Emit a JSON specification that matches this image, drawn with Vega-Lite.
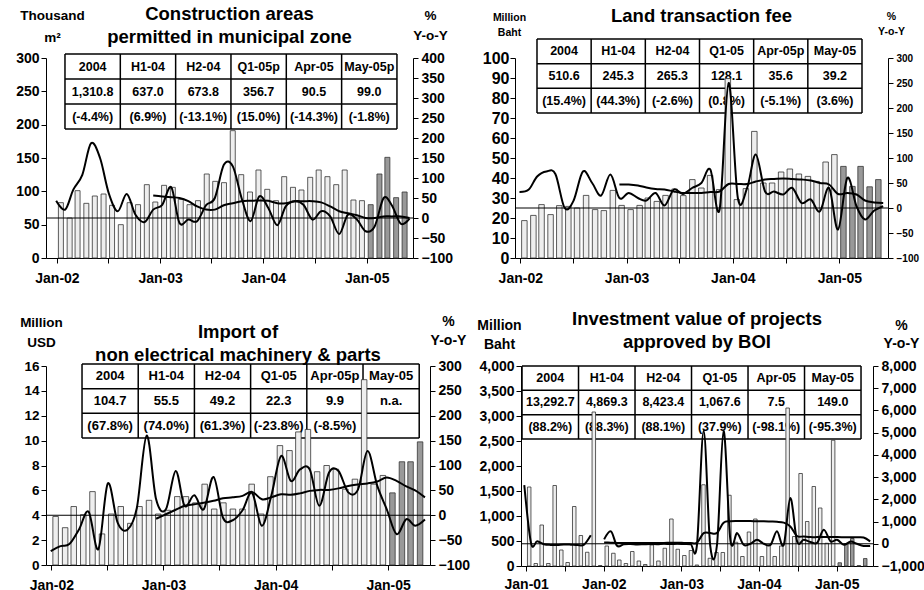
{
"$schema": "https://vega.github.io/schema/vega-lite/v6.json",
"background": "white",
"padding": {"left": 15, "top": 4, "right": 0, "bottom": 0},
"columns": 1,
"align": "none",
"spacing": 24,
"config": {
  "view": {"stroke": null},
  "axis": {"grid": false, "domainColor": "#000", "tickColor": "#000", "labelColor": "#000", "titleColor": "#000", "labelFont": "Liberation Sans", "titleFont": "Liberation Sans", "labelFontWeight": "bold", "titleFontWeight": "bold", "tickSize": 5, "domainWidth": 1, "tickWidth": 1, "labelOverlap": false, "labelFlush": false},
  "title": {"font": "Liberation Sans", "fontWeight": "bold", "fontSize": 18.5, "color": "#000", "lineHeight": 23},
  "text": {"font": "Liberation Sans", "fontWeight": "bold", "color": "#000"}
},
"datasets": {
  "bh": [{"k": -0.5}, {"k": 0.5}, {"k": 1.5}, {"k": 2.5}],
  "bv": [{"k": -0.5}, {"k": 0.5}, {"k": 1.5}, {"k": 2.5}, {"k": 3.5}, {"k": 4.5}, {"k": 5.5}],
  "t1": [
    {"c":0,"r":0,"s":"2004"},{"c":1,"r":0,"s":"H1-04"},{"c":2,"r":0,"s":"H2-04"},{"c":3,"r":0,"s":"Q1-05p"},{"c":4,"r":0,"s":"Apr-05"},{"c":5,"r":0,"s":"May-05p"},
    {"c":0,"r":1,"s":"1,310.8"},{"c":1,"r":1,"s":"637.0"},{"c":2,"r":1,"s":"673.8"},{"c":3,"r":1,"s":"356.7"},{"c":4,"r":1,"s":"90.5"},{"c":5,"r":1,"s":"99.0"},
    {"c":0,"r":2,"s":"(-4.4%)"},{"c":1,"r":2,"s":"(6.9%)"},{"c":2,"r":2,"s":"(-13.1%)"},{"c":3,"r":2,"s":"(15.0%)"},{"c":4,"r":2,"s":"(-14.3%)"},{"c":5,"r":2,"s":"(-1.8%)"}],
  "t2": [
    {"c":0,"r":0,"s":"2004"},{"c":1,"r":0,"s":"H1-04"},{"c":2,"r":0,"s":"H2-04"},{"c":3,"r":0,"s":"Q1-05"},{"c":4,"r":0,"s":"Apr-05p"},{"c":5,"r":0,"s":"May-05"},
    {"c":0,"r":1,"s":"510.6"},{"c":1,"r":1,"s":"245.3"},{"c":2,"r":1,"s":"265.3"},{"c":3,"r":1,"s":"128.1"},{"c":4,"r":1,"s":"35.6"},{"c":5,"r":1,"s":"39.2"},
    {"c":0,"r":2,"s":"(15.4%)"},{"c":1,"r":2,"s":"(44.3%)"},{"c":2,"r":2,"s":"(-2.6%)"},{"c":3,"r":2,"s":"(0.8%)"},{"c":4,"r":2,"s":"(-5.1%)"},{"c":5,"r":2,"s":"(3.6%)"}],
  "t3": [
    {"c":0,"r":0,"s":"2004"},{"c":1,"r":0,"s":"H1-04"},{"c":2,"r":0,"s":"H2-04"},{"c":3,"r":0,"s":"Q1-05"},{"c":4,"r":0,"s":"Apr-05p"},{"c":5,"r":0,"s":"May-05"},
    {"c":0,"r":1,"s":"104.7"},{"c":1,"r":1,"s":"55.5"},{"c":2,"r":1,"s":"49.2"},{"c":3,"r":1,"s":"22.3"},{"c":4,"r":1,"s":"9.9"},{"c":5,"r":1,"s":"n.a."},
    {"c":0,"r":2,"s":"(67.8%)"},{"c":1,"r":2,"s":"(74.0%)"},{"c":2,"r":2,"s":"(61.3%)"},{"c":3,"r":2,"s":"(-23.8%)"},{"c":4,"r":2,"s":"(-8.5%)"}],
  "t4": [
    {"c":0,"r":0,"s":"2004"},{"c":1,"r":0,"s":"H1-04"},{"c":2,"r":0,"s":"H2-04"},{"c":3,"r":0,"s":"Q1-05"},{"c":4,"r":0,"s":"Apr-05"},{"c":5,"r":0,"s":"May-05"},
    {"c":0,"r":1,"s":"13,292.7"},{"c":1,"r":1,"s":"4,869.3"},{"c":2,"r":1,"s":"8,423.4"},{"c":3,"r":1,"s":"1,067.6"},{"c":4,"r":1,"s":"7.5"},{"c":5,"r":1,"s":"149.0"},
    {"c":0,"r":2,"s":"(88.2%)"},{"c":1,"r":2,"s":"(88.3%)"},{"c":2,"r":2,"s":"(88.1%)"},{"c":3,"r":2,"s":"(37.9%)"},{"c":4,"r":2,"s":"(-98.1%)"},{"c":5,"r":2,"s":"(-95.3%)"}],
  "p1": [
    {"m":"2002-01-15","v":83,"y":43,"a":null},{"m":"2002-02-15","v":60,"y":21,"a":null},{"m":"2002-03-15","v":101,"y":71,"a":null},{"m":"2002-04-15","v":82,"y":108,"a":null},
    {"m":"2002-05-15","v":93,"y":187,"a":null},{"m":"2002-06-15","v":96,"y":150,"a":null},{"m":"2002-07-15","v":79,"y":62,"a":null},{"m":"2002-08-15","v":50,"y":17,"a":null},
    {"m":"2002-09-15","v":83,"y":60,"a":null},{"m":"2002-10-15","v":80,"y":8,"a":null},{"m":"2002-11-15","v":110,"y":-10,"a":null},{"m":"2002-12-15","v":84,"y":21,"a":56},
    {"m":"2003-01-15","v":109,"y":33,"a":54},{"m":"2003-02-15","v":106,"y":77,"a":52},{"m":"2003-03-15","v":88,"y":-12,"a":50},{"m":"2003-04-15","v":80,"y":-4,"a":42},
    {"m":"2003-05-15","v":86,"y":-8,"a":29},{"m":"2003-06-15","v":126,"y":32,"a":21},{"m":"2003-07-15","v":115,"y":50,"a":21},{"m":"2003-08-15","v":113,"y":133,"a":32},
    {"m":"2003-09-15","v":191,"y":129,"a":37},{"m":"2003-10-15","v":125,"y":50,"a":42},{"m":"2003-11-15","v":99,"y":-8,"a":43},{"m":"2003-12-15","v":132,"y":54,"a":44},
    {"m":"2004-01-15","v":103,"y":25,"a":43},{"m":"2004-02-15","v":86,"y":-18,"a":37},{"m":"2004-03-15","v":122,"y":29,"a":37},{"m":"2004-04-15","v":106,"y":42,"a":42},
    {"m":"2004-05-15","v":102,"y":33,"a":42},{"m":"2004-06-15","v":121,"y":-4,"a":42},{"m":"2004-07-15","v":132,"y":17,"a":39},{"m":"2004-08-15","v":122,"y":4,"a":29},
    {"m":"2004-09-15","v":110,"y":-40,"a":17},{"m":"2004-10-15","v":132,"y":8,"a":12},{"m":"2004-11-15","v":87,"y":-4,"a":7},{"m":"2004-12-15","v":86,"y":-33,"a":0},
    {"m":"2005-01-15","v":80,"y":-21,"a":0},{"m":"2005-02-15","v":126,"y":50,"a":4},{"m":"2005-03-15","v":151,"y":32,"a":4},{"m":"2005-04-15","v":90.5,"y":-14.3,"a":4},
    {"m":"2005-05-15","v":99,"y":-1.8,"a":0}],
  "p2": [
    {"m":"2002-01-15","v":18.7,"y":32,"a":null},{"m":"2002-02-15","v":21.3,"y":37,"a":null},{"m":"2002-03-15","v":26.7,"y":63,"a":null},{"m":"2002-04-15","v":21.7,"y":73,"a":null},
    {"m":"2002-05-15","v":26.2,"y":68,"a":null},{"m":"2002-06-15","v":25.8,"y":0,"a":null},{"m":"2002-07-15","v":25,"y":15,"a":null},{"m":"2002-08-15","v":31.3,"y":73,"a":null},
    {"m":"2002-09-15","v":24.2,"y":50,"a":null},{"m":"2002-10-15","v":23.7,"y":25,"a":null},{"m":"2002-11-15","v":33.8,"y":67,"a":null},{"m":"2002-12-15","v":26.3,"y":20,"a":47},
    {"m":"2003-01-15","v":24.2,"y":30,"a":47},{"m":"2003-02-15","v":26.3,"y":20,"a":45},{"m":"2003-03-15","v":30,"y":15,"a":41},{"m":"2003-04-15","v":28.3,"y":30,"a":38},
    {"m":"2003-05-15","v":31.3,"y":5,"a":37},{"m":"2003-06-15","v":34.5,"y":37,"a":33},{"m":"2003-07-15","v":31.2,"y":28,"a":30},{"m":"2003-08-15","v":39.2,"y":40,"a":30},
    {"m":"2003-09-15","v":35,"y":50,"a":30},{"m":"2003-10-15","v":41.3,"y":77,"a":32},{"m":"2003-11-15","v":34.2,"y":-3,"a":33},{"m":"2003-12-15","v":89.7,"y":250,"a":48},
    {"m":"2004-01-15","v":29.2,"y":20,"a":48},{"m":"2004-02-15","v":34.7,"y":40,"a":48},{"m":"2004-03-15","v":63.3,"y":107,"a":53},{"m":"2004-04-15","v":37.5,"y":33,"a":57},
    {"m":"2004-05-15","v":37.5,"y":33,"a":58},{"m":"2004-06-15","v":43,"y":27,"a":59},{"m":"2004-07-15","v":44.5,"y":40,"a":58},{"m":"2004-08-15","v":42,"y":10,"a":57},
    {"m":"2004-09-15","v":40.8,"y":17,"a":55},{"m":"2004-10-15","v":38.3,"y":-7,"a":50},{"m":"2004-11-15","v":48,"y":40,"a":47},{"m":"2004-12-15","v":51.7,"y":-43,"a":28},
    {"m":"2005-01-15","v":45.8,"y":60,"a":30},{"m":"2005-02-15","v":35.8,"y":3,"a":27},{"m":"2005-03-15","v":45.8,"y":-23,"a":15},{"m":"2005-04-15","v":35.6,"y":-5.1,"a":11},
    {"m":"2005-05-15","v":39.2,"y":3.6,"a":10}],
  "p3": [
    {"m":"2002-01-15","v":3.9,"y":-72,"a":null},{"m":"2002-02-15","v":3.0,"y":-62,"a":null},{"m":"2002-03-15","v":4.7,"y":-58,"a":null},{"m":"2002-04-15","v":4.05,"y":-28,"a":null},
    {"m":"2002-05-15","v":5.9,"y":7,"a":null},{"m":"2002-06-15","v":2.5,"y":-68,"a":null},{"m":"2002-07-15","v":4.1,"y":64,"a":null},{"m":"2002-08-15","v":4.7,"y":-15,"a":null},
    {"m":"2002-09-15","v":3.35,"y":-29,"a":null},{"m":"2002-10-15","v":4.7,"y":15,"a":null},{"m":"2002-11-15","v":5.2,"y":160,"a":null},{"m":"2002-12-15","v":4.1,"y":32,"a":-7},
    {"m":"2003-01-15","v":4.4,"y":12,"a":2},{"m":"2003-02-15","v":5.5,"y":89,"a":11},{"m":"2003-03-15","v":5.5,"y":19,"a":19},{"m":"2003-04-15","v":5.0,"y":40,"a":22},
    {"m":"2003-05-15","v":6.5,"y":12,"a":25},{"m":"2003-06-15","v":4.5,"y":77,"a":29},{"m":"2003-07-15","v":5.0,"y":-5,"a":34},{"m":"2003-08-15","v":4.5,"y":-10,"a":36},
    {"m":"2003-09-15","v":4.5,"y":10,"a":39},{"m":"2003-10-15","v":6.5,"y":45,"a":47},{"m":"2003-11-15","v":4.1,"y":-21,"a":32},{"m":"2003-12-15","v":7.1,"y":39,"a":36},
    {"m":"2004-01-15","v":9.6,"y":119,"a":42},{"m":"2004-02-15","v":9.2,"y":69,"a":41},{"m":"2004-03-15","v":10.7,"y":92,"a":44},{"m":"2004-04-15","v":10.9,"y":92,"a":49},
    {"m":"2004-05-15","v":7.5,"y":19,"a":51},{"m":"2004-06-15","v":8.0,"y":86,"a":51},{"m":"2004-07-15","v":7.7,"y":89,"a":54},{"m":"2004-08-15","v":6.1,"y":46,"a":59},
    {"m":"2004-09-15","v":6.9,"y":52,"a":62},{"m":"2004-10-15","v":14.9,"y":129,"a":64},{"m":"2004-11-15","v":6.5,"y":59,"a":68},{"m":"2004-12-15","v":7.2,"y":12,"a":76},
    {"m":"2005-01-15","v":5.8,"y":-38,"a":69},{"m":"2005-02-15","v":8.3,"y":-8,"a":58},{"m":"2005-03-15","v":8.3,"y":-21,"a":50},{"m":"2005-04-15","v":9.9,"y":-8.5,"a":36}],
  "p4": [
    {"m":"2001-01-15","v":1580,"y":2640,"a":null},{"m":"2001-02-15","v":50,"y":30,"a":null},{"m":"2001-03-15","v":820,"y":110,"a":null},{"m":"2001-04-15","v":50,"y":-20,"a":null},
    {"m":"2001-05-15","v":1610,"y":-50,"a":null},{"m":"2001-06-15","v":320,"y":-50,"a":null},{"m":"2001-07-15","v":70,"y":-30,"a":null},{"m":"2001-08-15","v":1190,"y":-40,"a":null},
    {"m":"2001-09-15","v":610,"y":-60,"a":null},{"m":"2001-10-15","v":275,"y":-40,"a":null},{"m":"2001-11-15","v":3080,"y":380,"a":null},{"m":"2001-12-15","v":10,"y":null,"a":null},
    {"m":"2002-01-15","v":400,"y":200,"a":60},{"m":"2002-02-15","v":255,"y":560,"a":50},{"m":"2002-03-15","v":120,"y":-90,"a":40},{"m":"2002-04-15","v":50,"y":-20,"a":40},
    {"m":"2002-05-15","v":290,"y":-10,"a":40},{"m":"2002-06-15","v":100,"y":-30,"a":40},{"m":"2002-07-15","v":30,"y":-20,"a":40},{"m":"2002-08-15","v":420,"y":-10,"a":40},
    {"m":"2002-09-15","v":100,"y":-20,"a":40},{"m":"2002-10-15","v":355,"y":0,"a":40},{"m":"2002-11-15","v":940,"y":-10,"a":45},{"m":"2002-12-15","v":335,"y":0,"a":45},
    {"m":"2003-01-15","v":210,"y":-10,"a":40},{"m":"2003-02-15","v":310,"y":-20,"a":40},{"m":"2003-03-15","v":20,"y":-80,"a":40},{"m":"2003-04-15","v":1625,"y":5070,"a":480},
    {"m":"2003-05-15","v":155,"y":-90,"a":480},{"m":"2003-06-15","v":270,"y":-40,"a":490},{"m":"2003-07-15","v":270,"y":5070,"a":950},{"m":"2003-08-15","v":1415,"y":180,"a":1010},
    {"m":"2003-09-15","v":475,"y":480,"a":1020},{"m":"2003-10-15","v":190,"y":-45,"a":1020},{"m":"2003-11-15","v":680,"y":0,"a":1020},{"m":"2003-12-15","v":940,"y":180,"a":1010},
    {"m":"2004-01-15","v":190,"y":0,"a":1010},{"m":"2004-02-15","v":420,"y":-45,"a":1000},{"m":"2004-03-15","v":190,"y":560,"a":990},{"m":"2004-04-15","v":400,"y":-45,"a":950},
    {"m":"2004-05-15","v":3160,"y":2060,"a":780},{"m":"2004-06-15","v":590,"y":110,"a":350},{"m":"2004-07-15","v":1850,"y":180,"a":330},{"m":"2004-08-15","v":890,"y":80,"a":300},
    {"m":"2004-09-15","v":1590,"y":50,"a":300},{"m":"2004-10-15","v":1160,"y":630,"a":300},{"m":"2004-11-15","v":455,"y":110,"a":300},{"m":"2004-12-15","v":2515,"y":180,"a":300},
    {"m":"2005-01-15","v":65,"y":-45,"a":295},{"m":"2005-02-15","v":450,"y":100,"a":290},{"m":"2005-03-15","v":550,"y":0,"a":290},{"m":"2005-04-15","v":7.5,"y":-98.1,"a":280},
    {"m":"2005-05-15","v":149,"y":-95.3,"a":110}]
},
"concat": [
 {"hconcat": [
  {"width": 367, "height": 200,
   "title": {"text": ["Construction areas", "permitted in municipal zone"], "offset": -38},
   "resolve": {"scale": {"x": "independent", "y": "independent"}},
   "layer": [
    {"data": {"name": "bh"}, "mark": {"type": "rule", "color": "#000", "strokeWidth": 1.5},
     "encoding": {"y": {"field": "k", "type": "quantitative", "scale": {"domain": [-0.34, 7.66], "reverse": true, "nice": false, "zero": false}, "axis": null},
                  "x": {"datum": -0.5, "type": "quantitative", "scale": {"domain": [-0.843, 5.79], "nice": false, "zero": false}, "axis": null}, "x2": {"datum": 5.5}}},
    {"data": {"name": "bv"}, "mark": {"type": "rule", "color": "#000", "strokeWidth": 1.5},
     "encoding": {"x": {"field": "k", "type": "quantitative", "scale": {"domain": [-0.843, 5.79], "nice": false, "zero": false}, "axis": null},
                  "y": {"datum": -0.5, "type": "quantitative", "scale": {"domain": [-0.34, 7.66], "reverse": true, "nice": false, "zero": false}, "axis": null}, "y2": {"datum": 2.5}}},
    {"data": {"name": "t1"}, "mark": {"type": "text", "fontSize": 12.5},
     "encoding": {"x": {"field": "c", "type": "quantitative", "scale": {"domain": [-0.843, 5.79], "nice": false, "zero": false}, "axis": null},
                  "y": {"field": "r", "type": "quantitative", "scale": {"domain": [-0.34, 7.66], "reverse": true, "nice": false, "zero": false}, "axis": null},
                  "text": {"field": "s"}}},
    {"data": {"name": "p1"}, "mark": {"type": "bar", "size": 5, "stroke": "#333", "strokeWidth": 0.8},
     "encoding": {"x": {"field": "m", "type": "temporal", "scale": {"type": "utc", "domain": [{"year": 2001, "month": 12, "date": 11, "utc": true}, {"year": 2005, "month": 5, "date": 27, "utc": true}]},
                        "axis": {"title": null, "labelFontSize": 14, "labelPadding": 8, "values": [{"year":2002,"month":1,"date":1,"utc":true},{"year":2002,"month":7,"date":1,"utc":true},{"year":2003,"month":1,"date":1,"utc":true},{"year":2003,"month":7,"date":1,"utc":true},{"year":2004,"month":1,"date":1,"utc":true},{"year":2004,"month":7,"date":1,"utc":true},{"year":2005,"month":1,"date":1,"utc":true}],
                                 "labelExpr": "utcmonth(datum.value) == 0 ? utcFormat(datum.value, '%b-%y') : ''"}},
                  "y": {"field": "v", "type": "quantitative", "scale": {"domain": [0, 300], "nice": false, "zero": false},
                        "axis": {"orient": "left", "values": [0, 50, 100, 150, 200, 250, 300], "labelFontSize": 14, "labelPadding": 2,
                                 "title": ["Thousand", "m²"], "titleAngle": 0, "titleAlign": "center", "titleBaseline": "alphabetic", "titleX": 6, "titleY": -39, "titleFontSize": 13.5, "titleLineHeight": 22}},
                  "fill": {"condition": {"test": "utcyear(datum.m) >= 2005", "value": "#999999"}, "value": "#eeeeee"}}},
    {"data": {"values": [{}]}, "mark": {"type": "rule", "color": "#000", "strokeWidth": 1},
     "encoding": {"y": {"datum": 0, "type": "quantitative", "scale": {"domain": [-100, 400], "nice": false, "zero": false}, "axis": null}}},
    {"data": {"name": "p1"}, "mark": {"type": "line", "color": "#000", "strokeWidth": 2, "interpolate": "cardinal", "invalid": "break-paths-show-domains"},
     "encoding": {"x": {"field": "m", "type": "temporal", "scale": {"type": "utc", "domain": [{"year": 2001, "month": 12, "date": 11, "utc": true}, {"year": 2005, "month": 5, "date": 27, "utc": true}]}, "axis": null},
                  "y": {"field": "y", "type": "quantitative", "scale": {"domain": [-100, 400], "nice": false, "zero": false},
                        "axis": {"orient": "right", "values": [-100, -50, 0, 50, 100, 150, 200, 250, 300, 350, 400], "labelFontSize": 14, "labelPadding": 3,
                                 "title": ["%", "Y-o-Y"], "titleAngle": 0, "titleAlign": "center", "titleBaseline": "alphabetic", "titleX": 17, "titleY": -39, "titleFontSize": 13.5, "titleLineHeight": 20}}}},
    {"data": {"name": "p1"}, "mark": {"type": "line", "color": "#000", "strokeWidth": 2, "interpolate": "cardinal", "invalid": "break-paths-show-domains"},
     "encoding": {"x": {"field": "m", "type": "temporal", "scale": {"type": "utc", "domain": [{"year": 2001, "month": 12, "date": 11, "utc": true}, {"year": 2005, "month": 5, "date": 27, "utc": true}]}, "axis": null},
                  "y": {"field": "a", "type": "quantitative", "scale": {"domain": [-100, 400], "nice": false, "zero": false}, "axis": null}}}
   ]},
  {"width": 373, "height": 200,
   "title": {"text": "Land transaction fee", "offset": -14},
   "resolve": {"scale": {"x": "independent", "y": "independent"}},
   "layer": [
    {"data": {"name": "bh"}, "mark": {"type": "rule", "color": "#000", "strokeWidth": 1.5},
     "encoding": {"y": {"field": "k", "type": "quantitative", "scale": {"domain": [0.27, 8.377], "reverse": true, "nice": false, "zero": false}, "axis": null},
                  "x": {"datum": -0.5, "type": "quantitative", "scale": {"domain": [-0.906, 5.98], "nice": false, "zero": false}, "axis": null}, "x2": {"datum": 5.5}}},
    {"data": {"name": "bv"}, "mark": {"type": "rule", "color": "#000", "strokeWidth": 1.5},
     "encoding": {"x": {"field": "k", "type": "quantitative", "scale": {"domain": [-0.906, 5.98], "nice": false, "zero": false}, "axis": null},
                  "y": {"datum": -0.5, "type": "quantitative", "scale": {"domain": [0.27, 8.377], "reverse": true, "nice": false, "zero": false}, "axis": null}, "y2": {"datum": 2.5}}},
    {"data": {"name": "t2"}, "mark": {"type": "text", "fontSize": 12.5},
     "encoding": {"x": {"field": "c", "type": "quantitative", "scale": {"domain": [-0.906, 5.98], "nice": false, "zero": false}, "axis": null},
                  "y": {"field": "r", "type": "quantitative", "scale": {"domain": [0.27, 8.377], "reverse": true, "nice": false, "zero": false}, "axis": null},
                  "text": {"field": "s"}}},
    {"data": {"name": "p2"}, "mark": {"type": "bar", "size": 5.5, "stroke": "#333", "strokeWidth": 0.8},
     "encoding": {"x": {"field": "m", "type": "temporal", "scale": {"type": "utc", "domain": [{"year": 2001, "month": 12, "date": 31, "utc": true}, {"year": 2005, "month": 5, "date": 31, "utc": true}]},
                        "axis": {"title": null, "labelFontSize": 14, "labelPadding": 8, "values": [{"year":2002,"month":1,"date":1,"utc":true},{"year":2002,"month":7,"date":1,"utc":true},{"year":2003,"month":1,"date":1,"utc":true},{"year":2003,"month":7,"date":1,"utc":true},{"year":2004,"month":1,"date":1,"utc":true},{"year":2004,"month":7,"date":1,"utc":true},{"year":2005,"month":1,"date":1,"utc":true}],
                                 "labelExpr": "utcmonth(datum.value) == 0 ? utcFormat(datum.value, '%b-%y') : ''"}},
                  "y": {"field": "v", "type": "quantitative", "scale": {"domain": [0, 100], "nice": false, "zero": false},
                        "axis": {"orient": "left", "values": [0, 10, 20, 30, 40, 50, 60, 70, 80, 90, 100], "labelFontSize": 16, "labelPadding": 1,
                                 "title": ["Million", "Baht"], "titleAngle": 0, "titleAlign": "center", "titleBaseline": "alphabetic", "titleX": -6, "titleY": -38, "titleFontSize": 10.5, "titleLineHeight": 15}},
                  "fill": {"condition": {"test": "utcyear(datum.m) >= 2005", "value": "#999999"}, "value": "#eeeeee"}}},
    {"data": {"values": [{}]}, "mark": {"type": "rule", "color": "#000", "strokeWidth": 1},
     "encoding": {"y": {"datum": 0, "type": "quantitative", "scale": {"domain": [-100, 300], "nice": false, "zero": false}, "axis": null}}},
    {"data": {"name": "p2"}, "mark": {"type": "line", "color": "#000", "strokeWidth": 2, "interpolate": "cardinal", "invalid": "break-paths-show-domains"},
     "encoding": {"x": {"field": "m", "type": "temporal", "scale": {"type": "utc", "domain": [{"year": 2001, "month": 12, "date": 31, "utc": true}, {"year": 2005, "month": 5, "date": 31, "utc": true}]}, "axis": null},
                  "y": {"field": "y", "type": "quantitative", "scale": {"domain": [-100, 300], "nice": false, "zero": false},
                        "axis": {"orient": "right", "values": [-100, -50, 0, 50, 100, 150, 200, 250, 300], "labelFontSize": 10, "labelPadding": 3,
                                 "title": ["%", "Y-o-Y"], "titleAngle": 0, "titleAlign": "center", "titleBaseline": "alphabetic", "titleX": 3, "titleY": -39, "titleFontSize": 10.5, "titleLineHeight": 15}}}},
    {"data": {"name": "p2"}, "mark": {"type": "line", "color": "#000", "strokeWidth": 2, "interpolate": "cardinal", "invalid": "break-paths-show-domains"},
     "encoding": {"x": {"field": "m", "type": "temporal", "scale": {"type": "utc", "domain": [{"year": 2001, "month": 12, "date": 31, "utc": true}, {"year": 2005, "month": 5, "date": 31, "utc": true}]}, "axis": null},
                  "y": {"field": "a", "type": "quantitative", "scale": {"domain": [-100, 300], "nice": false, "zero": false}, "axis": null}}}
   ]}
 ], "spacing": 29},
 {"hconcat": [
  {"width": 384, "height": 199,
   "title": {"text": ["Import of", "non electrical machinery & parts"], "offset": -50},
   "resolve": {"scale": {"x": "independent", "y": "independent"}},
   "layer": [
    {"data": {"name": "bh"}, "mark": {"type": "rule", "color": "#000", "strokeWidth": 1.5},
     "encoding": {"y": {"field": "k", "type": "quantitative", "scale": {"domain": [-0.419, 7.647], "reverse": true, "nice": false, "zero": false}, "axis": null},
                  "x": {"datum": -0.5, "type": "quantitative", "scale": {"domain": [-1.141, 5.692], "nice": false, "zero": false}, "axis": null}, "x2": {"datum": 5.5}}},
    {"data": {"name": "bv"}, "mark": {"type": "rule", "color": "#000", "strokeWidth": 1.5},
     "encoding": {"x": {"field": "k", "type": "quantitative", "scale": {"domain": [-1.141, 5.692], "nice": false, "zero": false}, "axis": null},
                  "y": {"datum": -0.5, "type": "quantitative", "scale": {"domain": [-0.419, 7.647], "reverse": true, "nice": false, "zero": false}, "axis": null}, "y2": {"datum": 2.5}}},
    {"data": {"name": "t3"}, "mark": {"type": "text", "fontSize": 13},
     "encoding": {"x": {"field": "c", "type": "quantitative", "scale": {"domain": [-1.141, 5.692], "nice": false, "zero": false}, "axis": null},
                  "y": {"field": "r", "type": "quantitative", "scale": {"domain": [-0.419, 7.647], "reverse": true, "nice": false, "zero": false}, "axis": null},
                  "text": {"field": "s"}}},
    {"data": {"name": "p3"}, "mark": {"type": "bar", "size": 5.5, "stroke": "#333", "strokeWidth": 0.8},
     "encoding": {"x": {"field": "m", "type": "temporal", "scale": {"type": "utc", "domain": [{"year": 2001, "month": 12, "date": 31, "utc": true}, {"year": 2005, "month": 5, "date": 1, "utc": true}]},
                        "axis": {"title": null, "labelFontSize": 14, "labelPadding": 8, "values": [{"year":2002,"month":1,"date":1,"utc":true},{"year":2002,"month":7,"date":1,"utc":true},{"year":2003,"month":1,"date":1,"utc":true},{"year":2003,"month":7,"date":1,"utc":true},{"year":2004,"month":1,"date":1,"utc":true},{"year":2004,"month":7,"date":1,"utc":true},{"year":2005,"month":1,"date":1,"utc":true}],
                                 "labelExpr": "utcmonth(datum.value) == 0 ? utcFormat(datum.value, '%b-%y') : ''"}},
                  "y": {"field": "v", "type": "quantitative", "scale": {"domain": [0, 16], "nice": false, "zero": false},
                        "axis": {"orient": "left", "values": [0, 2, 4, 6, 8, 10, 12, 14, 16], "labelFontSize": 13.5, "labelPadding": 2,
                                 "title": ["Million", "USD"], "titleAngle": 0, "titleAlign": "center", "titleBaseline": "alphabetic", "titleX": -5, "titleY": -40, "titleFontSize": 13.5, "titleLineHeight": 20}},
                  "fill": {"condition": {"test": "utcyear(datum.m) >= 2005", "value": "#999999"}, "value": "#eeeeee"}}},
    {"data": {"values": [{}]}, "mark": {"type": "rule", "color": "#000", "strokeWidth": 1},
     "encoding": {"y": {"datum": 0, "type": "quantitative", "scale": {"domain": [-100, 300], "nice": false, "zero": false}, "axis": null}}},
    {"data": {"name": "p3"}, "mark": {"type": "line", "color": "#000", "strokeWidth": 2, "interpolate": "cardinal", "invalid": "break-paths-show-domains"},
     "encoding": {"x": {"field": "m", "type": "temporal", "scale": {"type": "utc", "domain": [{"year": 2001, "month": 12, "date": 31, "utc": true}, {"year": 2005, "month": 5, "date": 1, "utc": true}]}, "axis": null},
                  "y": {"field": "y", "type": "quantitative", "scale": {"domain": [-100, 300], "nice": false, "zero": false},
                        "axis": {"orient": "right", "values": [-100, -50, 0, 50, 100, 150, 200, 250, 300], "labelFontSize": 14, "labelPadding": 3,
                                 "title": ["%", "Y-o-Y"], "titleAngle": 0, "titleAlign": "center", "titleBaseline": "alphabetic", "titleX": 18, "titleY": -41, "titleFontSize": 14, "titleLineHeight": 19}}}},
    {"data": {"name": "p3"}, "mark": {"type": "line", "color": "#000", "strokeWidth": 2, "interpolate": "cardinal", "invalid": "break-paths-show-domains"},
     "encoding": {"x": {"field": "m", "type": "temporal", "scale": {"type": "utc", "domain": [{"year": 2001, "month": 12, "date": 31, "utc": true}, {"year": 2005, "month": 5, "date": 1, "utc": true}]}, "axis": null},
                  "y": {"field": "a", "type": "quantitative", "scale": {"domain": [-100, 300], "nice": false, "zero": false}, "axis": null}}}
   ]},
  {"width": 352, "height": 200,
   "title": {"text": ["Investment value of projects", "approved by BOI"], "offset": -33},
   "resolve": {"scale": {"x": "independent", "y": "independent"}},
   "layer": [
    {"data": {"name": "bh"}, "mark": {"type": "rule", "color": "#000", "strokeWidth": 1.5},
     "encoding": {"y": {"field": "k", "type": "quantitative", "scale": {"domain": [-0.5, 7.72], "reverse": true, "nice": false, "zero": false}, "axis": null},
                  "x": {"datum": -0.5, "type": "quantitative", "scale": {"domain": [-0.518, 5.712], "nice": false, "zero": false}, "axis": null}, "x2": {"datum": 5.5}}},
    {"data": {"name": "bv"}, "mark": {"type": "rule", "color": "#000", "strokeWidth": 1.5},
     "encoding": {"x": {"field": "k", "type": "quantitative", "scale": {"domain": [-0.518, 5.712], "nice": false, "zero": false}, "axis": null},
                  "y": {"datum": -0.5, "type": "quantitative", "scale": {"domain": [-0.5, 7.72], "reverse": true, "nice": false, "zero": false}, "axis": null}, "y2": {"datum": 2.5}}},
    {"data": {"name": "t4"}, "mark": {"type": "text", "fontSize": 12.5},
     "encoding": {"x": {"field": "c", "type": "quantitative", "scale": {"domain": [-0.518, 5.712], "nice": false, "zero": false}, "axis": null},
                  "y": {"field": "r", "type": "quantitative", "scale": {"domain": [-0.5, 7.72], "reverse": true, "nice": false, "zero": false}, "axis": null},
                  "text": {"field": "s"}}},
    {"data": {"name": "p4"}, "mark": {"type": "bar", "size": 3.5, "stroke": "#333", "strokeWidth": 0.8},
     "encoding": {"x": {"field": "m", "type": "temporal", "scale": {"type": "utc", "domain": [{"year": 2000, "month": 12, "date": 31, "utc": true}, {"year": 2005, "month": 5, "date": 28, "utc": true}]},
                        "axis": {"title": null, "labelFontSize": 14, "labelPadding": 6, "values": [{"year":2001,"month":1,"date":1,"utc":true},{"year":2001,"month":7,"date":1,"utc":true},{"year":2002,"month":1,"date":1,"utc":true},{"year":2002,"month":7,"date":1,"utc":true},{"year":2003,"month":1,"date":1,"utc":true},{"year":2003,"month":7,"date":1,"utc":true},{"year":2004,"month":1,"date":1,"utc":true},{"year":2004,"month":7,"date":1,"utc":true},{"year":2005,"month":1,"date":1,"utc":true}],
                                 "labelExpr": "utcmonth(datum.value) == 0 ? utcFormat(datum.value, '%b-%y') : ''"}},
                  "y": {"field": "v", "type": "quantitative", "scale": {"domain": [0, 4000], "nice": false, "zero": false},
                        "axis": {"orient": "left", "values": [0, 500, 1000, 1500, 2000, 2500, 3000, 3500, 4000], "format": ",d", "labelFontSize": 14, "labelPadding": 2,
                                 "title": ["Million", "Baht"], "titleAngle": 0, "titleAlign": "center", "titleBaseline": "alphabetic", "titleX": -22, "titleY": -37, "titleFontSize": 14, "titleLineHeight": 19}},
                  "fill": {"condition": {"test": "utcyear(datum.m) >= 2005", "value": "#999999"}, "value": "#eeeeee"}}},
    {"data": {"values": [{}]}, "mark": {"type": "rule", "color": "#000", "strokeWidth": 1},
     "encoding": {"y": {"datum": 0, "type": "quantitative", "scale": {"domain": [-1000, 8000], "nice": false, "zero": false}, "axis": null}}},
    {"data": {"name": "p4"}, "mark": {"type": "line", "color": "#000", "strokeWidth": 2, "interpolate": "cardinal", "invalid": "break-paths-show-domains"},
     "encoding": {"x": {"field": "m", "type": "temporal", "scale": {"type": "utc", "domain": [{"year": 2000, "month": 12, "date": 31, "utc": true}, {"year": 2005, "month": 5, "date": 28, "utc": true}]}, "axis": null},
                  "y": {"field": "y", "type": "quantitative", "scale": {"domain": [-1000, 8000], "nice": false, "zero": false},
                        "axis": {"orient": "right", "values": [-1000, 0, 1000, 2000, 3000, 4000, 5000, 6000, 7000, 8000], "format": ",d", "labelFontSize": 14, "labelPadding": 3,
                                 "title": ["%", "Y-o-Y"], "titleAngle": 0, "titleAlign": "center", "titleBaseline": "alphabetic", "titleX": 28, "titleY": -37, "titleFontSize": 14, "titleLineHeight": 18}}}},
    {"data": {"name": "p4"}, "mark": {"type": "line", "color": "#000", "strokeWidth": 2, "interpolate": "cardinal", "invalid": "break-paths-show-domains"},
     "encoding": {"x": {"field": "m", "type": "temporal", "scale": {"type": "utc", "domain": [{"year": 2000, "month": 12, "date": 31, "utc": true}, {"year": 2005, "month": 5, "date": 28, "utc": true}]}, "axis": null},
                  "y": {"field": "a", "type": "quantitative", "scale": {"domain": [-1000, 8000], "nice": false, "zero": false}, "axis": null}}}
   ]}
 ], "spacing": 6}
]
}
